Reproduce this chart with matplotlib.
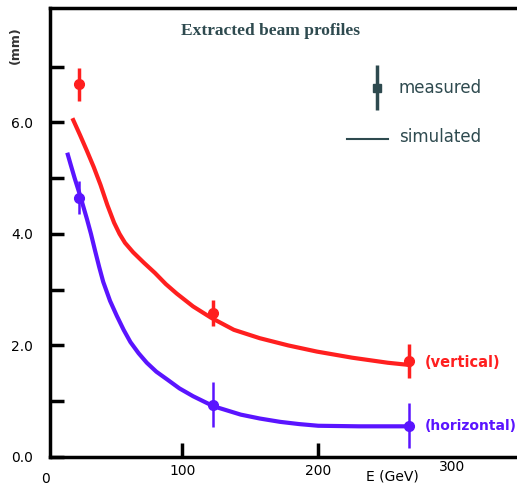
import matplotlib
matplotlib.use("Agg")
import matplotlib.pyplot as plt

# measured points (E in GeV, beam size in mm)
meas_e = [24, 123, 267]
vert_meas = [6.68, 2.58, 1.72]
vert_err = [0.3, 0.24, 0.3]
horiz_meas = [4.65, 0.94, 0.56]
horiz_err = [0.3, 0.4, 0.4]

# simulated curves
vert_sim_e = [20, 25, 30, 35, 40, 45, 50, 54, 58, 64, 72, 80, 88, 96, 108, 121, 138,
              157, 178, 199, 225, 251, 267]
vert_sim = [6.04, 5.77, 5.49, 5.2, 4.88, 4.52, 4.2, 4.0, 3.84, 3.67, 3.48, 3.3, 3.1,
            2.93, 2.7, 2.5, 2.28, 2.13, 2.0, 1.89, 1.78, 1.69, 1.65]
horiz_sim_e = [16, 18, 21, 25, 30, 33, 36, 39, 42, 47, 52, 57, 62, 68, 74, 81, 89,
               98, 108, 123, 143, 157, 172, 186, 200, 230, 267]
horiz_sim = [5.42, 5.25, 5.0, 4.69, 4.27, 4.0, 3.7, 3.41, 3.14, 2.8, 2.53, 2.28,
             2.06, 1.86, 1.69, 1.53, 1.39, 1.23, 1.09, 0.91, 0.76, 0.69, 0.63, 0.59,
             0.56, 0.55, 0.55]

yticks = [0, 2, 4, 6]
ytick_labels = ["0.0", "2.0", "4.0", "6.0"]
xticks = [100, 200]
xtick_labels = ["100", "200"]

red = "#ff1f1f"
blue = "#5a14ff"
slate = "#2e4a4f"

fig = plt.figure(figsize=(5.17, 4.87), dpi=100)
ax = fig.add_axes([50 / 517, 30 / 487, 467 / 517, 449 / 487])

ax.plot(vert_sim_e, vert_sim, color=red, lw=3, solid_joinstyle="round")
ax.plot(horiz_sim_e, horiz_sim, color=blue, lw=3, solid_joinstyle="round")
ax.errorbar(meas_e, vert_meas, yerr=vert_err, fmt="o", color=red, ms=7,
            elinewidth=2.5, capsize=0)
ax.errorbar(meas_e, horiz_meas, yerr=horiz_err, fmt="o", color=blue, ms=7,
            elinewidth=1.8, capsize=0)

ax.set_xlim(2.9, 346)
ax.set_ylim(0, 8.05)
ax.spines["right"].set_visible(False)
for s in ["left", "bottom", "top"]:
    ax.spines[s].set_linewidth(2.5)

ax.set_yticks(yticks)
ax.set_yticklabels(ytick_labels)
ax.set_yticks([1, 3, 5, 7], minor=True)
ax.set_xticks(xticks)
ax.set_xticklabels(xtick_labels)
ax.tick_params(axis="both", which="both", direction="in", length=10, width=2.5,
               labelsize=10)
ax.tick_params(axis="y", pad=12)
ax.tick_params(axis="x", pad=5)

fig.text(45 / 517, 1 - 479 / 487, "0", ha="center", va="center", fontsize=10)
fig.text(452 / 517, 1 - 467 / 487, "300", ha="center", va="center", fontsize=10)
fig.text(392 / 517, 1 - 476 / 487, "E (GeV)", ha="center", va="center", fontsize=10)
fig.text(15 / 517, 1 - 45 / 487, "(mm)", rotation=90, ha="center", va="center",
         fontsize=9, fontweight="bold", color="#333333")

ax.text(165, 7.63, "Extracted beam profiles", ha="center", va="center",
        fontsize=12.5, fontweight="bold", family="Liberation Serif", color=slate)

# legend drawn by hand
ax.errorbar([243], [6.62], yerr=[0.4], fmt="s", color=slate, ms=6,
            elinewidth=2.5, capsize=0)
ax.plot([221, 251], [5.71, 5.71], color=slate, lw=1.5)
ax.text(259, 6.62, "measured", va="center", fontsize=12, color=slate)
ax.text(259, 5.73, "simulated", va="center", fontsize=12, color=slate)

ax.text(278, 1.69, "(vertical)", va="center", fontsize=10.5, fontweight="bold", color=red)
ax.text(278, 0.56, "(horizontal)", va="center", fontsize=10, fontweight="bold", color=blue)

fig.savefig("out.png", dpi=100)
